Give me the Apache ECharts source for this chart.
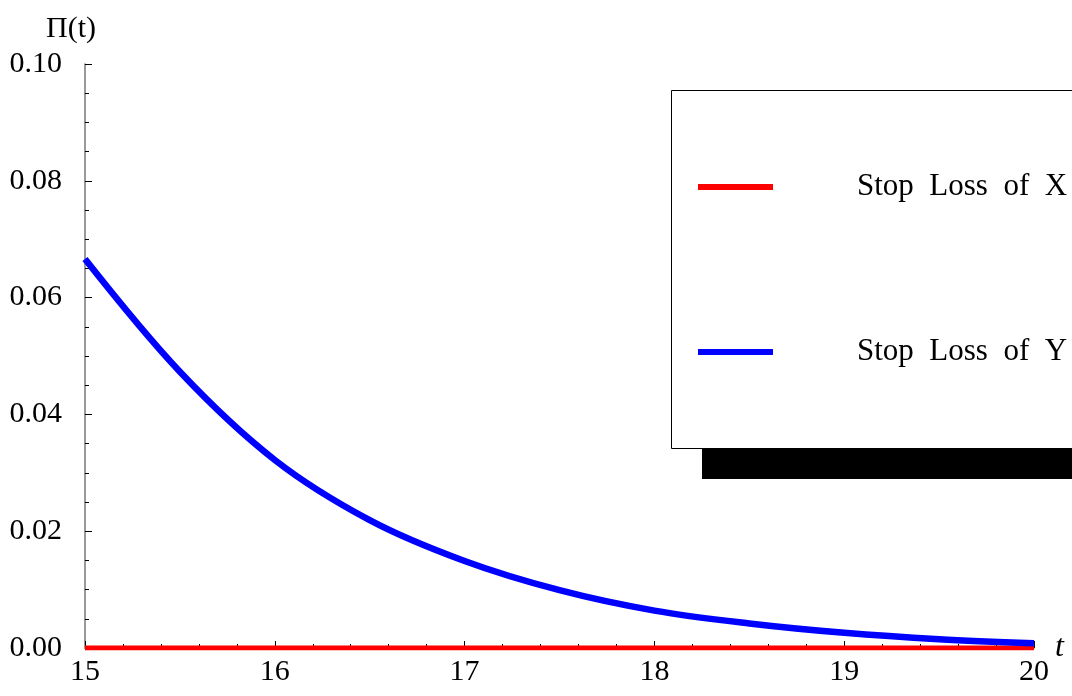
<!DOCTYPE html>
<html>
<head>
<meta charset="utf-8">
<script src="https://cdn.jsdelivr.net/npm/echarts@6/dist/echarts.min.js"></script>
<style>
html,body{margin:0;padding:0;background:#fff;}
#chart{width:1072px;height:696px;}
</style>
</head>
<body>
<div id="chart"></div>
<script>
// Data
const tValues = [15, 15.5, 16, 16.5, 17, 17.5, 18, 18.5, 19, 19.5, 20];
const stopLossY = [0.0666, 0.0473, 0.0322, 0.0219, 0.0149, 0.0099, 0.0064, 0.0042, 0.0026, 0.0015, 0.0008];
const stopLossX = [0, 0, 0, 0, 0, 0, 0, 0, 0, 0, 0];
const seriesNames = ['Stop  Loss  of  X', 'Stop  Loss  of  Y'];

const serif = '"Liberation Serif", "DejaVu Serif", serif';
const chart = echarts.init(document.getElementById('chart'));
chart.setOption({
  backgroundColor: '#ffffff',
  animation: false,
  grid: { left: 85, right: 38, top: 64, bottom: 48 },
  legend: {
    orient: 'vertical',
    left: 671,
    top: 90,
    padding: [79, 300, 79, 27],
    itemGap: 129,
    itemWidth: 75,
    itemHeight: 6,
    icon: 'rect',
    backgroundColor: '#ffffff',
    borderWidth: 0,
    shadowColor: '#000000',
    shadowBlur: 0,
    shadowOffsetX: 31,
    shadowOffsetY: 30,
    textStyle: { fontFamily: serif, fontSize: 31, color: '#000', padding: [0, 0, 0, 79], lineHeight: 36 },
    data: seriesNames
  },
  graphic: [{
    type: 'rect',
    z: 100, silent: true,
    shape: { x: 671.5, y: 90.5, width: 500, height: 358 },
    style: { fill: null, stroke: '#000', lineWidth: 1 }
  }],
  xAxis: {
    type: 'value',
    min: 15, max: 20, interval: 1,
    name: 't',
    nameLocation: 'end',
    nameGap: 20,
    nameTextStyle: { fontFamily: serif, fontStyle: 'italic', fontSize: 32, color: '#000' },
    axisLine: { show: true, onZero: false, lineStyle: { color: '#555', width: 1 } },
    axisTick: { show: true, inside: true, length: 7, lineStyle: { color: '#000' } },
    minorTick: { show: true, splitNumber: 5, length: 4, lineStyle: { color: '#000' } },
    splitLine: { show: false },
    axisLabel: { fontFamily: serif, fontSize: 30, color: '#000', margin: 9, formatter: v => String(v) }
  },
  yAxis: {
    type: 'value',
    min: 0, max: 0.1, interval: 0.02,
    name: 'Π(t)',
    nameLocation: 'end',
    nameGap: 20,
    nameTextStyle: { fontFamily: serif, fontSize: 30, color: '#000', align: 'center', padding: [0, 28, 0, 0] },
    axisLine: { show: true, onZero: false, lineStyle: { color: '#777', width: 1.5 } },
    axisTick: { show: true, inside: true, length: 7, lineStyle: { color: '#000' } },
    minorTick: { show: true, splitNumber: 4, length: 4, lineStyle: { color: '#000' } },
    splitLine: { show: false },
    axisLabel: { fontFamily: serif, fontSize: 30, color: '#000', margin: 23, formatter: v => v.toFixed(2) }
  },
  series: [
    {
      name: seriesNames[0],
      type: 'line',
      data: tValues.map((t, i) => [t, stopLossX[i]]),
      showSymbol: false,
      symbol: 'none',
      lineStyle: { color: '#ff0000', width: 5 },
      itemStyle: { color: '#ff0000' },
      z: 3
    },
    {
      name: seriesNames[1],
      type: 'line',
      data: tValues.map((t, i) => [t, stopLossY[i]]),
      smooth: 0.35,
      showSymbol: false,
      symbol: 'none',
      lineStyle: { color: '#0000ff', width: 6.5 },
      itemStyle: { color: '#0000ff' },
      z: 4
    }
  ]
});
</script>
</body>
</html>
